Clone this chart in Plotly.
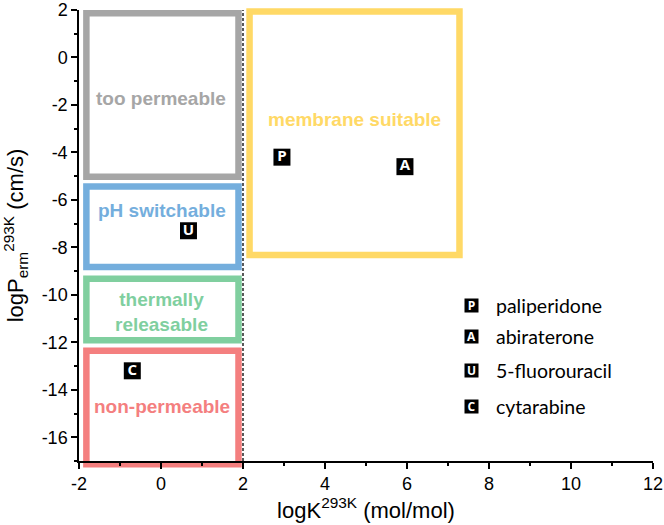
import plotly.graph_objects as go

# ---- data ----
X_RANGE = [-2, 12]
Y_RANGE = [-17, 2]

x_tickvals = [-2, 0, 2, 4, 6, 8, 10, 12]
x_ticktext = ["-2", "0", "2", "4", "6", "8", "10", "12"]
y_tickvals = [-16, -14, -12, -10, -8, -6, -4, -2, 0, 2]
y_ticktext = ["-16", "-14", "-12", "-10", "-8", "-6", "-4", "-2", "0", "2"]

drug_names = ["paliperidone", "abiraterone", "5-fluorouracil", "cytarabine"]
drug_letters = ["P", "A", "U", "C"]
drug_logK = [2.95, 5.95, 0.67, -0.70]
drug_logP = [-4.2, -4.6, -7.3, -13.2]

region_labels = ["too permeable", "pH switchable", "thermally<br>releasable",
                 "non-permeable", "membrane suitable"]
region_colors = ["#a6a6a6", "#74aedd", "#80cf9f", "#f47f7f", "#ffd966"]
region_x0 = [-1.82, -1.82, -1.82, -1.82, 2.16]
region_x1 = [1.89, 1.89, 1.89, 1.89, 7.28]
region_y0 = [-5.03, -8.83, -11.91, -17.14, -8.32]
region_y1 = [1.86, -5.44, -9.32, -12.36, 1.94]
label_x = [0.0, 0.03, 0.0, 0.03, 4.71]
label_y = [-1.71, -6.45, -10.72, -14.7, -2.61]

boundary_logK = 2

FIG_W, FIG_H = 664, 525
PLOT_L, PLOT_T, PLOT_W, PLOT_H = 79, 10, 574, 451

# key rows / columns (pixels from the top-left of the figure)
legend_rows_px = [305, 336, 370, 406]
legend_box_px = 471
legend_text_px = 494


def ydom(v):
    return (v - Y_RANGE[0]) / (Y_RANGE[1] - Y_RANGE[0])


fig = go.Figure()

shapes = []
for i in range(len(region_labels)):
    shapes.append(dict(type="rect", xref="x", yref="y domain",
                       x0=region_x0[i], x1=region_x1[i],
                       y0=ydom(region_y0[i]), y1=ydom(region_y1[i]),
                       line=dict(color=region_colors[i], width=6.5),
                       fillcolor="rgba(0,0,0,0)", layer="below"))
shapes.append(dict(type="line", xref="x", yref="paper", x0=boundary_logK, x1=boundary_logK,
                   y0=0, y1=1, line=dict(color="black", width=1.3, dash="3px,2px")))

annotations = []
for i in range(len(region_labels)):
    annotations.append(dict(x=label_x[i], y=label_y[i], xref="x", yref="y",
                            xanchor="center", yanchor="middle",
                            text="<b>%s</b>" % region_labels[i], showarrow=False,
                            font=dict(family="Arial", size=19, color=region_colors[i])))

fig.add_trace(go.Scatter(
    x=drug_logK, y=drug_logP, mode="markers+text", text=drug_letters,
    textposition="middle center",
    marker=dict(symbol="square", size=17, color="black"),
    textfont=dict(family="Open Sans", size=15, color="white", weight="bold"),
    cliponaxis=False, showlegend=False, hoverinfo="skip"))

# manual key
for i in range(len(drug_names)):
    py = 1 - (legend_rows_px[i] - PLOT_T) / PLOT_H
    annotations.append(dict(x=(legend_box_px - PLOT_L) / PLOT_W, y=py,
                            xref="paper", yref="paper", xanchor="center", yanchor="middle",
                            text="<b>%s</b>" % drug_letters[i], showarrow=False, bgcolor="black",
                            width=13, height=13, borderpad=0,
                            font=dict(family="Open Sans", size=12, color="white")))
    annotations.append(dict(x=(legend_text_px - PLOT_L) / PLOT_W, y=py,
                            xref="paper", yref="paper", xanchor="left", yanchor="middle",
                            text=drug_names[i], showarrow=False,
                            font=dict(family="Lato", size=19.5, color="black")))

axis_common = dict(showline=True, linecolor="black", linewidth=1.5,
                   ticks="outside", ticklen=6, tickwidth=1.5, tickcolor="black",
                   minor=dict(dtick=1, ticks="outside", ticklen=3, tickwidth=1.5,
                              tickcolor="black"),
                   showgrid=False, zeroline=False, automargin=False,
                   tickfont=dict(family="Arial", size=18, color="black"))

fig.update_layout(
    width=FIG_W, height=FIG_H,
    margin=dict(l=PLOT_L, r=FIG_W - PLOT_L - PLOT_W, t=PLOT_T, b=FIG_H - PLOT_T - PLOT_H),
    plot_bgcolor="white", paper_bgcolor="white",
    shapes=shapes, annotations=annotations,
    font=dict(family="Arial", color="black"),
    hovermode=False,
    xaxis=dict(range=X_RANGE, tickvals=x_tickvals, ticktext=x_ticktext,
               title=dict(text="logK<sup>293K</sup> (mol/mol)",
                          font=dict(family="Arial", size=22), standoff=0),
               **axis_common),
    yaxis=dict(range=Y_RANGE, tickvals=y_tickvals, ticktext=y_ticktext,
               title=dict(text="logP<sub>erm</sub><sup>293K</sup> (cm/s)",
                          font=dict(family="Arial", size=22), standoff=12),
               **axis_common),
)

fig.write_html("out.html", config={"displayModeBar": False},
               post_script="document.body.style.margin='0';document.body.style.overflow='hidden';")
